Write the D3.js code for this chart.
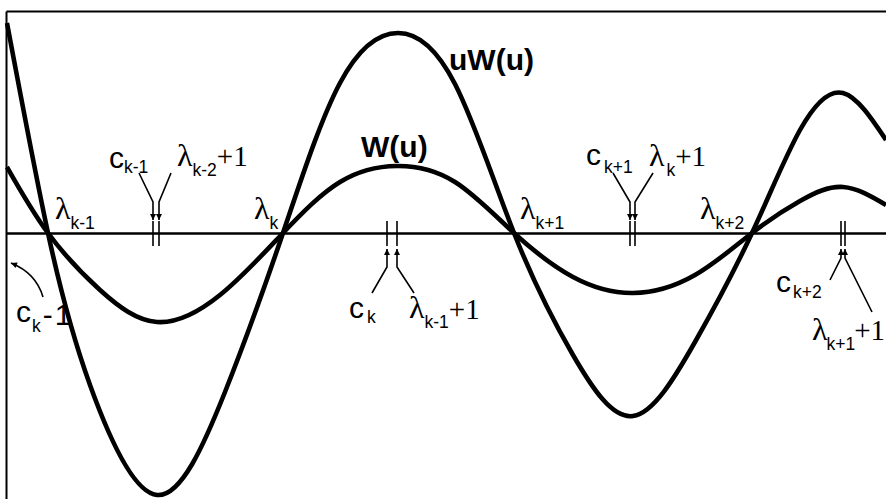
<!DOCTYPE html>
<html>
<head>
<meta charset="UTF-8">
<title>W(u) and uW(u)</title>
<script src="https://d3js.org/d3.v7.min.js"></script>
<style>
  body { margin: 0; background: #fff; }
  .curve { fill: none; stroke: #000; stroke-width: 4.6; stroke-linejoin: round; }
  .frame path { stroke: #000; stroke-width: 2; }
  .zero path { stroke: #000; stroke-width: 2.6; }
  .tick-mark { stroke: #000; stroke-width: 1.6; }
  .pointer { fill: none; stroke: #000; stroke-width: 1.6; }
  text { fill: #000; }
  .sym { font-family: "Liberation Serif", serif; font-size: 32px; }
  .num { font-family: "Liberation Serif", serif; font-size: 29px; }
  .sub { font-family: "Liberation Sans", Arial, sans-serif; font-size: 17.5px; }
  .let { font-family: "Liberation Sans", Arial, sans-serif; font-size: 30px; }
  .name { font-family: "Liberation Sans", Arial, sans-serif; font-size: 30px; font-weight: bold; }
</style>
</head>
<body>
<script>
// curves (u along the axis, value up)
var wU   = [0.07, 0.48, 1.00, 1.57, 2.20, 2.83, 3.40, 3.97, 4.55, 5.14,
            5.73, 6.33, 6.95, 7.52, 8.00, 8.43, 8.86];
var wVal = [0.66, 0.00, -0.57, -0.89, -0.62, 0.00, 0.51, 0.67, 0.51, 0.00,
            -0.44, -0.60, -0.42, 0.00, 0.32, 0.46, 0.28];

var uwU   = [0.07, 0.48, 0.90, 1.57, 2.25, 2.83, 3.40, 3.98, 4.55, 5.14,
             5.73, 6.33, 6.95, 7.52, 8.00, 8.43, 8.86];
var uwVal = [2.10, 0.00, -1.52, -2.62, -1.59, 0.00, 1.50, 2.00, 1.49, 0.00,
             -1.22, -1.83, -1.09, 0.00, 1.03, 1.40, 0.93];

// zeros and the marked points c and lambda+1 on the axis
var lambdaU   = [0.48, 2.83, 5.14, 7.52];
var lambdaSub = ["k-1", "k", "k+1", "k+2"];
var cU        = [1.53, 3.87, 6.30, 8.41];
var cSub      = ["k-1", "k", "k+1", "k+2"];
var lamOneU   = [1.59, 3.97, 6.35, 8.45];
var lamOneSub = ["k-2", "k-1", "k", "k+1"];

var width = 886, height = 499;

var svg = d3.select("body").append("svg")
    .attr("width", width)
    .attr("height", height);

var x = d3.scaleLinear().domain([0.06, 8.86]).range([6, 886]);
var y = d3.scaleLinear().domain([-2.66, 2.22]).range([499, 11]);

var defs = svg.append("defs");
defs.append("marker")
    .attr("id", "head")
    .attr("viewBox", "0 0 10 10")
    .attr("refX", 10).attr("refY", 5)
    .attr("markerWidth", 8).attr("markerHeight", 6)
    .attr("markerUnits", "userSpaceOnUse")
    .attr("orient", "auto")
  .append("path")
    .attr("d", "M0,0L10,5L0,10z")
    .attr("fill", "#000");

// frame and zero line
svg.append("g").attr("class", "frame")
    .attr("transform", "translate(0," + y(2.22) + ")")
    .call(d3.axisTop(x).tickValues([]).tickSizeOuter(0));
svg.append("g").attr("class", "frame")
    .attr("transform", "translate(" + x(0.06) + ",0)")
    .call(d3.axisLeft(y).tickValues([]).tickSizeOuter(0));
svg.append("g").attr("class", "zero")
    .attr("transform", "translate(0," + y(0) + ")")
    .call(d3.axisBottom(x).tickValues([]).tickSizeOuter(0));

var line = d3.line()
    .x(function(d) { return x(d[0]); })
    .y(function(d) { return y(d[1]); })
    .curve(d3.curveNatural);

svg.append("path").attr("class", "curve")
    .attr("d", line(d3.zip(wU, wVal)));
svg.append("path").attr("class", "curve")
    .attr("d", line(d3.zip(uwU, uwVal)));

// text with sub/superscript parts
function label(px, py, parts) {
    var t = svg.append("text").attr("x", px).attr("y", py);
    parts.forEach(function(p) {
        t.append("tspan").attr("class", p[1])
            .attr("dy", p[2] || 0).attr("dx", p[3] || 0)
            .text(p[0]);
    });
    return t;
}

var y0 = y(0);

// lambda labels at the zeros
var lamDx = [7, -29, 6, -52];
lambdaU.forEach(function(u, i) {
    label(x(u) + lamDx[i], y0 - 14, [["λ", "sym"], [lambdaSub[i], "sub", 10, 0]]);
});

// double ticks
cU.forEach(function(u, i) {
    [u, lamOneU[i]].forEach(function(v) {
        svg.append("line").attr("class", "tick-mark")
            .attr("x1", x(v)).attr("x2", x(v))
            .attr("y1", y0 - 12).attr("y2", y0 + 13);
    });
});

function pointer(pts) {
    svg.append("path").attr("class", "pointer")
        .attr("d", d3.line()(pts))
        .attr("marker-end", "url(#head)");
}

// c_{k-1}, lambda_{k-2}+1 (above the axis, arrows down)
var a = x(cU[0]), b = x(lamOneU[0]);
pointer([[a - 14, y0 - 60], [a, y0 - 31], [a, y0 - 13]]);
pointer([[b + 12, y0 - 60], [b, y0 - 31], [b, y0 - 13]]);
label(a - 44, y0 - 65, [["c", "let"], ["k-1", "sub", 5, 0]]);
label(b + 18, y0 - 67, [["λ", "sym"], [lamOneSub[0], "sub", 10, 0], ["+1", "num", -10, 0]]);

// c_k, lambda_{k-1}+1 (below, arrows up)
a = x(cU[1]); b = x(lamOneU[1]);
pointer([[a - 15, y0 + 60], [a, y0 + 34], [a, y0 + 16]]);
pointer([[b + 17, y0 + 60], [b, y0 + 34], [b, y0 + 16]]);
label(a - 38, y0 + 85, [["c", "let"], [cSub[1], "sub", 5, 3]]);
label(b + 12, y0 + 85, [["λ", "sym"], [lamOneSub[1], "sub", 10, 0], ["+1", "num", -9, 0]]);

// c_{k+1}, lambda_k+1 (above)
a = x(cU[2]); b = x(lamOneU[2]);
pointer([[a - 17, y0 - 60], [a, y0 - 31], [a, y0 - 13]]);
pointer([[b + 18, y0 - 60], [b, y0 - 31], [b, y0 - 13]]);
label(a - 44, y0 - 68, [["c", "let"], [cSub[2], "sub", 8, 3]]);
label(b + 14, y0 - 67, [["λ", "sym"], [lamOneSub[2], "sub", 10, 2], ["+1", "num", -10, 0]]);

// c_{k+2}, lambda_{k+1}+1 (below)
a = x(cU[3]); b = x(lamOneU[3]);
pointer([[a - 11, y0 + 47], [a, y0 + 25], [a, y0 + 16]]);
pointer([[b + 27, y0 + 79], [b, y0 + 25], [b, y0 + 16]]);
label(a - 65, y0 + 59, [["c", "let"], [cSub[3], "sub", 6, 2]]);
label(b - 33, y0 + 107, [["λ", "sym"], [lamOneSub[3], "sub", 10, -1], ["+1", "num", -10, -1]]);

// c_k - 1 off the left edge
var lx = x(0.06);
svg.append("path").attr("class", "pointer")
    .attr("d", "M" + (lx + 37) + "," + (y0 + 64) + "Q" + (lx + 30) + "," + (y0 + 40) + " " + (lx + 5) + "," + (y0 + 30))
    .attr("marker-end", "url(#head)");
label(lx + 10, y0 + 89, [["c", "let"], ["k", "sub", 10, 1], ["-", "let", -7, 2], ["1", "let", 0, 2]]);

// curve names
label(361, 157, [["W(u)", "name"]]);
label(449, 70, [["uW(u)", "name"]]);
</script>
</body>
</html>
